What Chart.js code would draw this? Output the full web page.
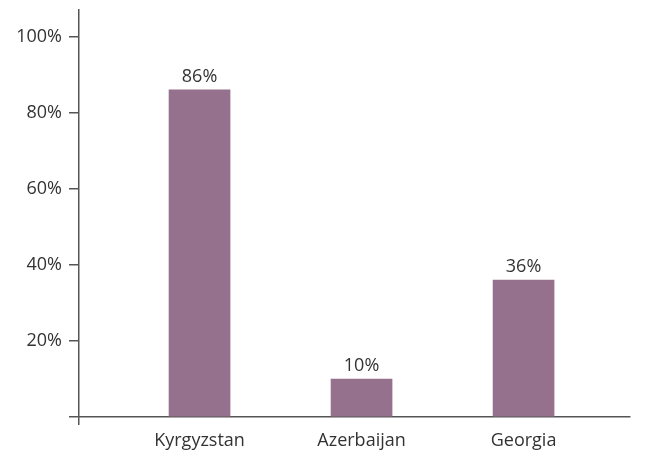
<!DOCTYPE html>
<html>
<head>
<meta charset="utf-8">
<script src="https://cdn.jsdelivr.net/npm/chart.js@4/dist/chart.umd.min.js"></script>
<style>
html,body{margin:0;padding:0;background:#fff;}
#wrap{width:647px;height:453px;position:relative;}
</style>
</head>
<body>
<div id="wrap"><canvas id="c" width="647" height="453"></canvas></div>
<script>
const categories = ["Kyrgyzstan", "Azerbaijan", "Georgia"];
const values = [86, 10, 36];
const yTicks = [0, 20, 40, 60, 80, 100];

const FONT = "'Open Sans', Lato, sans-serif";
const TEXT = "#333333";
const AXIS = "#555555";
const BAR = "#96718e";
const X_MIN = -0.744, X_MAX = 2.657;
const STUB = X_MIN + 0.0005;

const valueLabels = {
  id: 'valueLabels',
  afterDatasetsDraw(chart) {
    const ctx = chart.ctx;
    const meta = chart.getDatasetMeta(0);
    ctx.save();
    ctx.font = "18px " + FONT;
    ctx.fillStyle = TEXT;
    ctx.textAlign = 'center';
    ctx.textBaseline = 'bottom';
    meta.data.forEach((el, i) => {
      ctx.fillText(values[i] + '%', el.x, el.y - 4);
    });
    ctx.restore();
  }
};

new Chart(document.getElementById('c'), {
  type: 'bar',
  data: {
    datasets: [{
      data: categories.map((c, i) => ({x: i, y: values[i]})),
      backgroundColor: BAR,
      barThickness: 61
    }]
  },
  options: {
    responsive: false,
    animation: false,
    events: [],
    layout: {padding: {left: 0, right: 17, top: 10, bottom: 0}},
    plugins: {legend: {display: false}, tooltip: {enabled: false}},
    scales: {
      x: {
        type: 'linear',
        offset: false,
        min: X_MIN,
        max: X_MAX,
        afterBuildTicks(s) { s.ticks = [STUB, 0, 1, 2].map(v => ({value: v})); },
        afterFit(s) { s.height = 36; s.paddingLeft = 0; s.paddingRight = 0; },
        ticks: {
          autoSkip: false,
          maxRotation: 0,
          padding: 5,
          color: TEXT,
          font: {family: FONT, size: 18},
          callback: (v) => Number.isInteger(v) ? categories[v] : ''
        },
        grid: {
          offset: false,
          drawOnChartArea: false,
          tickLength: 8,
          lineWidth: 1.5,
          color: (ctx) => (ctx.tick && ctx.tick.value === STUB) ? AXIS : 'rgba(0,0,0,0)'
        },
        border: {display: true, color: AXIS, width: 1.5}
      },
      y: {
        min: 0,
        max: 107,
        afterBuildTicks(s) { s.ticks = yTicks.map(v => ({value: v})); },
        afterFit(s) { s.width = 79; s.paddingTop = 0; s.paddingBottom = 0; },
        ticks: {
          padding: 7,
          color: TEXT,
          font: {family: FONT, size: 18},
          callback: (v) => v === 0 ? '' : v + '%'
        },
        grid: {
          drawOnChartArea: false,
          tickLength: 10,
          lineWidth: 1.5,
          color: AXIS
        },
        border: {display: true, color: AXIS, width: 1.5}
      }
    }
  },
  plugins: [valueLabels]
});
</script>
</body>
</html>
